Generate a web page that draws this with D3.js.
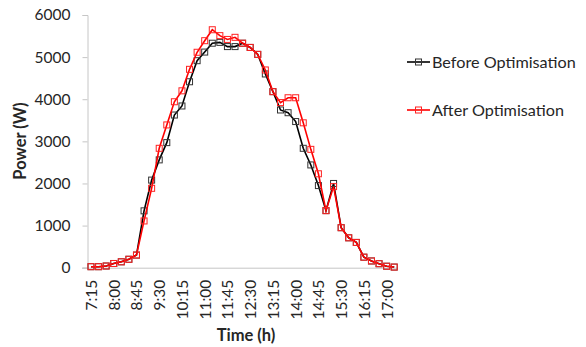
<!DOCTYPE html>
<html><head><meta charset="utf-8">
<script src="https://cdn.jsdelivr.net/npm/d3@7"></script>
<style>body{margin:0;background:#fff;} svg{display:block;}</style>
</head><body>
<svg id="c" width="586" height="347"></svg>
<script>
const times = ["7:15","7:30","7:45","8:00","8:15","8:30","8:45","9:00","9:15","9:30","9:45","10:00","10:15","10:30","10:45","11:00","11:15","11:30","11:45","12:00","12:15","12:30","12:45","13:00","13:15","13:30","13:45","14:00","14:15","14:30","14:45","15:00","15:15","15:30","15:45","16:00","16:15","16:30","16:45","17:00","17:15"];
const beforeOpt = [24,24,40,100,140,200,300,1350,2080,2560,2970,3625,3840,4415,4915,5120,5330,5350,5250,5250,5330,5230,5065,4600,4180,3745,3680,3470,2835,2440,1950,1355,2000,950,710,600,250,160,95,35,15];
const afterOpt  = [24,24,40,100,140,200,300,1110,1885,2835,3390,3940,4200,4710,5115,5390,5650,5510,5420,5470,5330,5230,5065,4695,4180,3920,4035,4035,3440,2810,2230,1355,1925,950,710,600,250,160,95,35,15];
const yTicks = [0,1000,2000,3000,4000,5000,6000];
const seriesNames = ["Before Optimisation","After Optimisation"];
const seriesColors = ["#000000","#ff0000"];

const svg = d3.select("#c");
const font = "Lato, 'Open Sans', sans-serif";
const x = d3.scalePoint().domain(times).range([87.2, 398]).padding(0.5);
const y = d3.scaleLinear().domain([0,6000]).range([267.7, 15]);
const axisCol = "#c6c6c6", textCol = "#262626";

// Y axis
const ya = svg.append("g").attr("transform","translate(87.5,0)")
  .call(d3.axisLeft(y).tickValues(yTicks).tickSize(5).tickPadding(12).tickFormat(d3.format("d")));
ya.select(".domain").attr("stroke",axisCol);
ya.selectAll(".tick line").attr("stroke",axisCol);
ya.selectAll("text").attr("font-family",font).attr("font-size",15.5).attr("fill",textCol);

// X axis
const xa = svg.append("g").attr("transform","translate(0,267.7)")
  .call(d3.axisBottom(x).tickValues(times.filter((d,i)=>i%3===0)).tickSize(0).tickSizeOuter(0));
xa.select(".domain").attr("stroke",axisCol).attr("d","M82,0.5H398");
xa.selectAll("text").attr("font-family",font).attr("font-size",15.5).attr("fill",textCol)
  .attr("transform","rotate(-90)").attr("text-anchor","end").attr("dy","0.35em").attr("x",-12).attr("y",0);

// Series
const data = [beforeOpt, afterOpt];
const line = d3.line().x((d,i)=>x(times[i])).y(d=>y(d));
data.forEach((vals,k)=>{
  const g = svg.append("g");
  g.append("path").attr("d",line(vals)).attr("fill","none").attr("stroke",seriesColors[k]).attr("stroke-width",1.6);
  g.selectAll("rect").data(vals).join("rect")
    .attr("x",(d,i)=>x(times[i])-3).attr("y",d=>y(d)-3).attr("width",6).attr("height",6)
    .attr("fill","none").attr("stroke",k===0?"#333":"#ff2020").attr("stroke-width",1);
});

// Legend
const legY = [62,110];
seriesNames.forEach((n,k)=>{
  const g = svg.append("g");
  g.append("line").attr("x1",407).attr("x2",430).attr("y1",legY[k]).attr("y2",legY[k]).attr("stroke",seriesColors[k]).attr("stroke-width",1.6);
  g.append("rect").attr("x",415.5).attr("y",legY[k]-3).attr("width",6).attr("height",6).attr("fill","none").attr("stroke",k===0?"#333":"#ff2020");
  g.append("text").attr("x",432).attr("y",legY[k]).attr("dy","0.35em").attr("font-family",font).attr("font-size",16.2).attr("fill",textCol).text(n);
});

// Axis titles
svg.append("text").attr("transform","translate(26,141) rotate(-90)").attr("text-anchor","middle")
  .attr("font-family",font).attr("font-size",16.5).attr("font-weight","bold").attr("fill",textCol).text("Power (W)");
svg.append("text").attr("x",246).attr("y",335).attr("dy","0.35em").attr("text-anchor","middle")
  .attr("font-family",font).attr("font-size",16.5).attr("font-weight","bold").attr("fill",textCol).text("Time (h)");
</script>
</body></html>
